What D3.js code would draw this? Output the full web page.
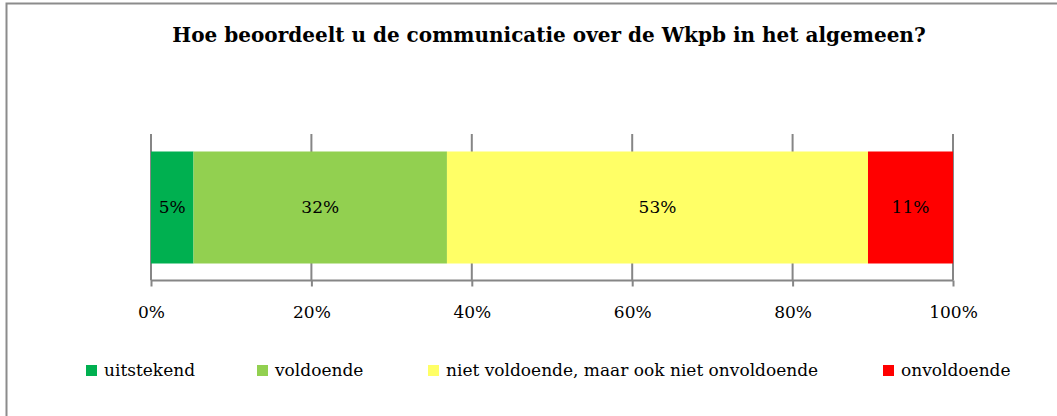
<!DOCTYPE html>
<html>
<head>
<meta charset="utf-8">
<script src="https://cdn.jsdelivr.net/npm/d3@7"></script>
<style>
  body { margin: 0; background: #fff; }
  svg text { font-family: "Palatino Linotype", "Book Antiqua", Palatino, "DejaVu Serif", serif; fill: #000; }
</style>
</head>
<body>
<div id="chart"></div>
<script>
// answers, share of respondents in percent
const categories = ['uitstekend', 'voldoende', 'niet voldoende, maar ook niet onvoldoende', 'onvoldoende'];
const values = [5.3, 31.6, 52.5, 10.6];
const colors = ['#00b050', '#92d050', '#ffff66', '#ff0000'];
const ticks = [0, 20, 40, 60, 80, 100];
const title = 'Hoe beoordeelt u de communicatie over de Wkpb in het algemeen?';

const width = 1057, height = 416;
const plot = { left: 151, right: 953, top: 134, bottom: 280.5 };
const barTop = 151.5, barBottom = 263.5;

const svg = d3.select('#chart').append('svg')
  .attr('width', width)
  .attr('height', height);

// chart border, the right and bottom edges fall outside the picture
svg.append('rect')
  .attr('x', 6.5).attr('y', 3.5)
  .attr('width', width + 10).attr('height', height + 10)
  .attr('fill', '#fff')
  .attr('stroke', '#8c8c8c')
  .attr('stroke-width', 2);

svg.append('text')
  .attr('x', 549).attr('y', 42)
  .attr('text-anchor', 'middle')
  .style('font-size', '20px')
  .style('font-weight', 'bold')
  .text(title);

const x = d3.scaleLinear().domain([0, 100]).range([plot.left, plot.right]);

// vertical gridlines
svg.append('g').selectAll('line')
    .data(ticks)
  .enter().append('line')
    .attr('x1', d => x(d)).attr('x2', d => x(d))
    .attr('y1', plot.top).attr('y2', plot.bottom)
    .attr('stroke', '#868686')
    .attr('stroke-width', 2);

// stacked segments
let acc = 0;
const segments = values.map((v, i) => {
  const s = { name: categories[i], value: v, start: acc, color: colors[i] };
  acc += v;
  return s;
});

const segGroup = svg.append('g');
segGroup.selectAll('rect')
    .data(segments)
  .enter().append('rect')
    .attr('x', d => x(d.start))
    .attr('y', barTop)
    .attr('width', d => x(d.start + d.value) - x(d.start))
    .attr('height', barBottom - barTop)
    .attr('fill', d => d.color);

segGroup.selectAll('text')
    .data(segments)
  .enter().append('text')
    .attr('x', d => x(d.start + d.value / 2))
    .attr('y', (barTop + barBottom) / 2)
    .attr('dy', '0.35em')
    .attr('text-anchor', 'middle')
    .style('font-size', '17px')
    .text(d => Math.round(d.value) + '%');

// bottom axis
const axis = d3.axisBottom(x)
  .tickValues(ticks)
  .tickSize(6)
  .tickPadding(19)
  .tickFormat(d => d + '%');

const axisG = svg.append('g')
  .attr('transform', `translate(0, ${plot.bottom})`)
  .call(axis);
axisG.select('.domain').attr('stroke', '#868686').attr('stroke-width', 2)
  .attr('d', `M${plot.left},0H${plot.right}`);
axisG.selectAll('.tick line').attr('stroke', '#868686').attr('stroke-width', 2);
axisG.selectAll('.tick text')
  .style('font-size', '17px')
  .attr('font-family', null);
axisG.attr('font-family', null).attr('font-size', null);

// legend
const legendX = [86, 257, 428, 883];
const legend = svg.append('g').selectAll('g')
    .data(segments)
  .enter().append('g')
    .attr('transform', (d, i) => `translate(${legendX[i]}, 370)`);

legend.append('rect')
  .attr('x', 0).attr('y', -5)
  .attr('width', 11).attr('height', 11)
  .attr('fill', d => d.color);

legend.append('text')
  .attr('x', 18)
  .attr('dy', '0.35em')
  .style('font-size', '17px')
  .text(d => d.name);
</script>
</body>
</html>
